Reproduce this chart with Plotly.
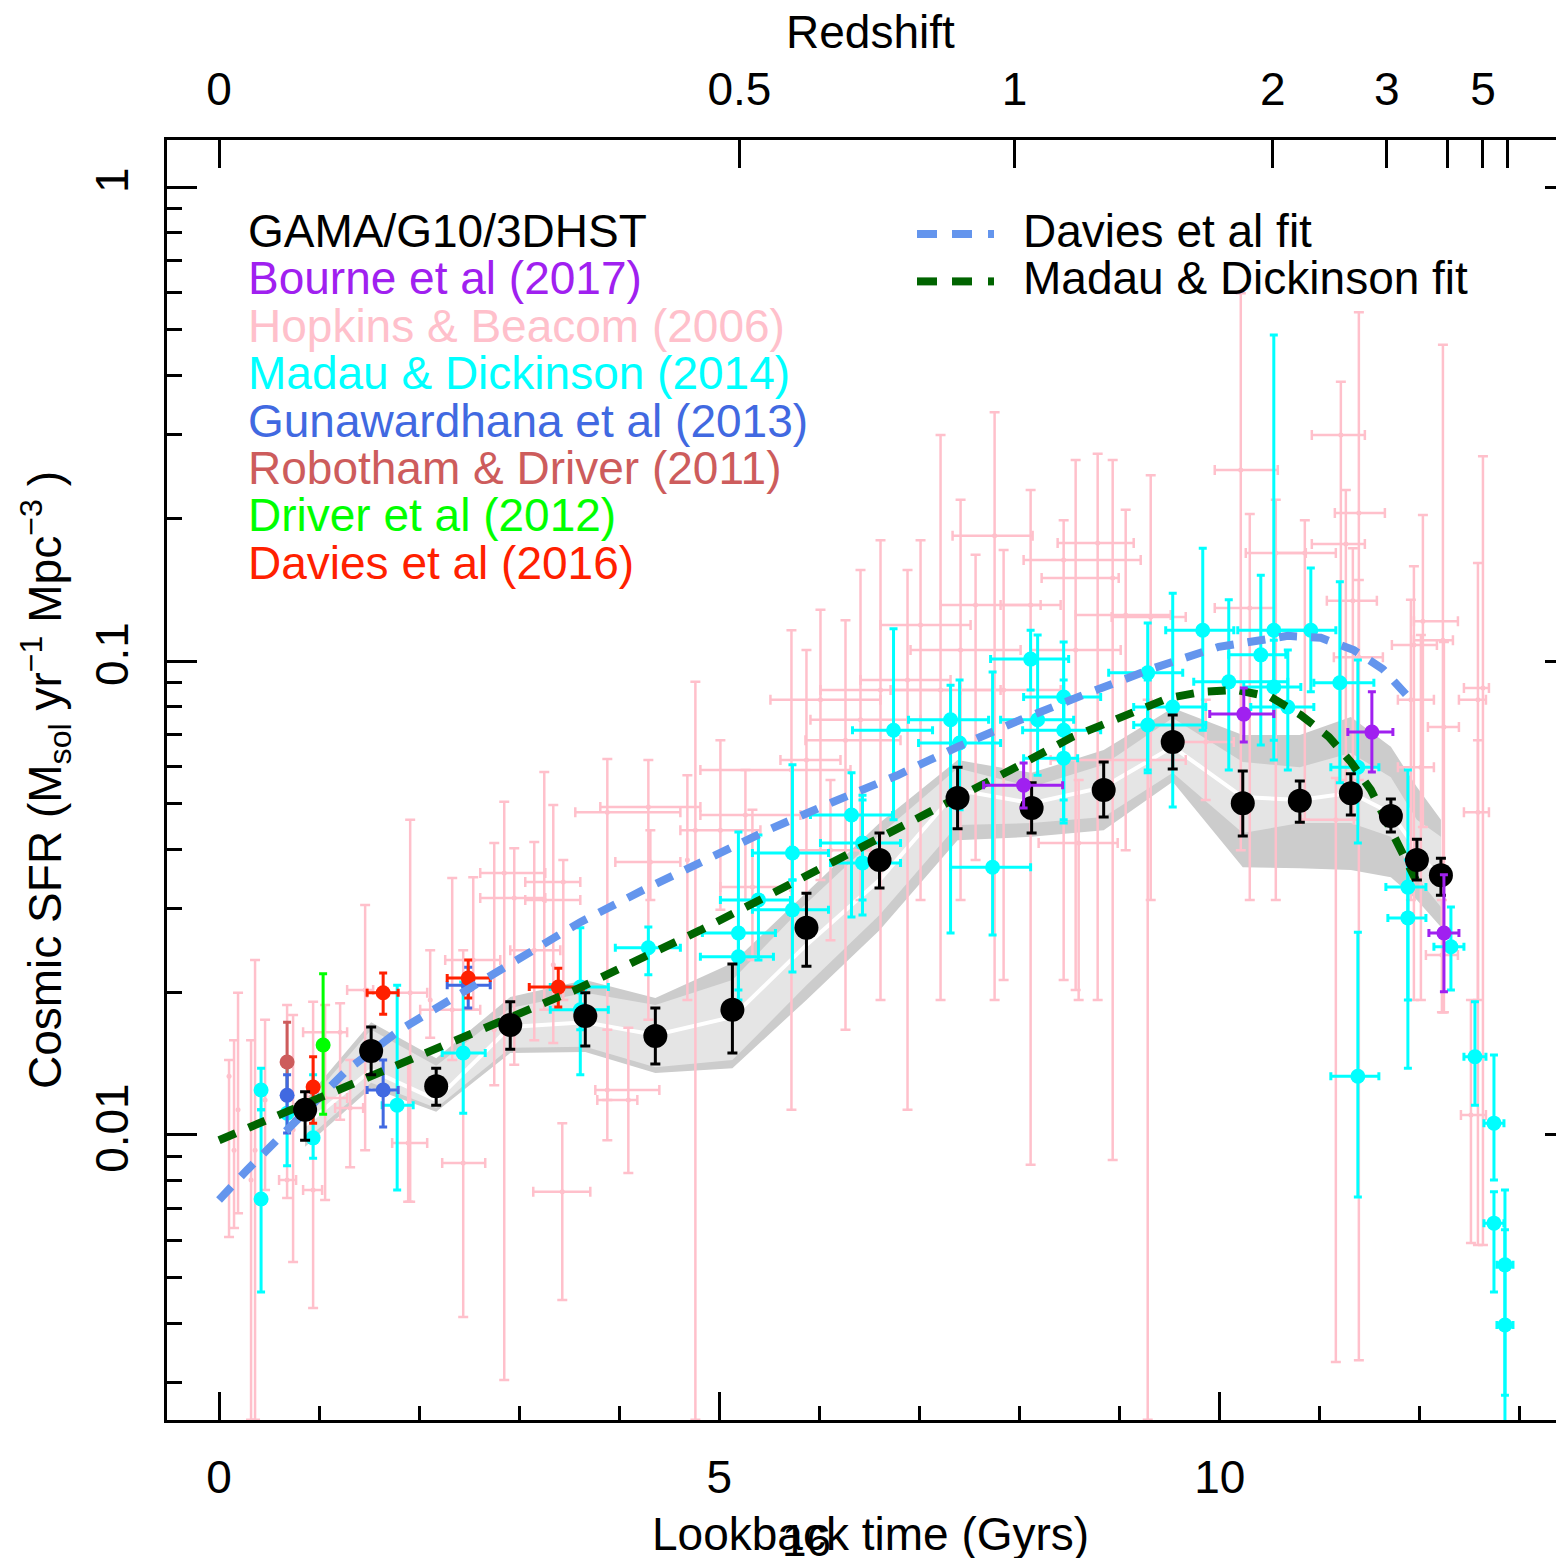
import plotly.graph_objects as go

# ---------------- data (lookback time in Gyr, log10 SFR density) ----------------
# GAMA/G10/3DHST
gama_t = [0.86, 1.52, 2.17, 2.91, 3.66, 4.36, 5.13, 5.87, 6.60, 7.38, 8.12, 8.84, 9.53, 10.23, 10.80, 11.31, 11.71, 11.97, 12.21]
gama_L = [-1.947, -1.823, -1.897, -1.768, -1.749, -1.791, -1.736, -1.563, -1.420, -1.289, -1.310, -1.272, -1.171, -1.300, -1.295, -1.279, -1.327, -1.420, -1.452]
gama_Lhi = [-1.909, -1.772, -1.859, -1.719, -1.700, -1.732, -1.639, -1.490, -1.363, -1.224, -1.257, -1.213, -1.114, -1.232, -1.253, -1.238, -1.291, -1.376, -1.416]
gama_Llo = [-2.011, -1.873, -1.937, -1.819, -1.812, -1.850, -1.827, -1.644, -1.479, -1.354, -1.363, -1.329, -1.228, -1.369, -1.340, -1.325, -1.361, -1.462, -1.494]

# grey range bands around GAMA
band_outer_hi = [-1.926, -1.762, -1.838, -1.709, -1.673, -1.711, -1.637, -1.489, -1.342, -1.209, -1.236, -1.188, -1.099, -1.156, -1.156, -1.118, -1.181, -1.266, -1.335]
band_inner_hi = [-1.939, -1.778, -1.854, -1.732, -1.700, -1.726, -1.673, -1.511, -1.367, -1.226, -1.266, -1.219, -1.120, -1.213, -1.224, -1.194, -1.245, -1.335, -1.371]
band_mid = [-1.979, -1.863, -1.926, -1.772, -1.762, -1.789, -1.751, -1.599, -1.462, -1.272, -1.300, -1.266, -1.181, -1.287, -1.293, -1.278, -1.321, -1.399, -1.462]
band_inner_lo = [-2.011, -1.890, -1.943, -1.816, -1.814, -1.857, -1.842, -1.684, -1.536, -1.346, -1.342, -1.329, -1.236, -1.363, -1.342, -1.342, -1.371, -1.456, -1.519]
band_outer_lo = [-2.025, -1.901, -1.951, -1.827, -1.825, -1.869, -1.859, -1.715, -1.568, -1.378, -1.371, -1.357, -1.255, -1.435, -1.437, -1.441, -1.456, -1.504, -1.561]

# Bourne et al (2017)
bourne_t = [8.04, 10.24, 11.52, 12.24]
bourne_tlo = [7.64, 9.90, 11.28, 12.09]
bourne_thi = [8.43, 10.54, 11.73, 12.39]
bourne_L = [-1.262, -1.112, -1.150, -1.574]
bourne_Lhi = [-1.215, -1.057, -1.065, -1.451]
bourne_Llo = [-1.310, -1.171, -1.234, -1.698]

# Gunawardhana et al (2013)
gun_t = [0.68, 1.64, 2.49]
gun_tlo = [None, 1.48, 2.28]
gun_thi = [None, 1.79, 2.71]
gun_L = [-1.916, -1.905, -1.684]
gun_Lhi = [-1.873, -1.842, -1.646]
gun_Llo = [-1.996, -1.983, -1.732]

# Robotham & Driver (2011)
rob_t = [0.68]
rob_L = [-1.846]
rob_Lhi = [-1.762]
rob_Llo = [-1.926]

# Driver et al (2012)
drv_t = [1.04]
drv_L = [-1.810]
drv_Lhi = [-1.660]
drv_Llo = [-1.956]

# Davies et al (2016)
dav_t = [0.94, 1.64, 2.49, 3.39]
dav_tlo = [None, 1.48, 2.28, 3.10]
dav_thi = [None, 1.79, 2.71, 3.64]
dav_L = [-1.899, -1.700, -1.669, -1.688]
dav_Lhi = [-1.835, -1.658, -1.631, -1.648]
dav_Llo = [-1.975, -1.745, -1.711, -1.730]

# Madau & Dickinson (2014)
md_t = [0.42, 0.42, 0.68, 0.94, 1.78, 2.44, 3.61, 3.61, 4.29, 5.19, 5.19, 5.39, 5.73, 5.73, 6.32, 6.43, 6.43, 6.74, 7.31, 7.40,
        7.73, 8.11, 8.18, 8.44, 8.44, 8.44, 9.28, 9.28, 9.53, 9.83, 10.09, 10.41, 10.54, 10.54, 10.68, 10.91, 11.20, 11.38, 11.38,
        11.88, 11.88, 12.31, 12.55, 12.74, 12.74, 12.85, 12.85]
md_tlo = [None, None, None, None, 1.63, 2.23, 3.31, 3.31, 3.96, 4.83, 4.81, 5.01, 5.33, 5.33, 5.91, 6.01, 6.11, 6.33, 6.89, 6.99,
          7.31, 7.71, 7.81, 8.04, 8.03, 8.04, 8.89, 9.14, 9.14, 9.46, 9.74, 10.09, 10.18, 10.24, 10.31, 10.59, 10.94, 11.11, 11.11,
          11.66, 11.68, 12.14, 12.44, 12.64, 12.64, 12.77, 12.77]
md_thi = [None, None, None, None, 1.94, 2.66, 3.89, 3.89, 4.61, 5.56, 5.54, 5.71, 6.09, 6.09, 6.73, 6.81, 6.81, 7.13, 7.69, 7.81,
          8.11, 8.49, 8.54, 8.81, 8.81, 8.58, 9.63, 9.86, 9.86, 10.14, 10.68, 10.66, 10.91, 10.81, 10.94, 11.16, 11.54, 11.59, 11.59,
          12.06, 12.06, 12.44, 12.66, 12.84, 12.84, 12.93, 12.93]
md_L = [-1.905, -2.135, -1.954, -2.006, -1.937, -1.827, -1.688, -1.736, -1.605, -1.574, -1.624, -1.504, -1.405, -1.525, -1.325,
        -1.384, -1.426, -1.146, -1.124, -1.173, -1.435, -0.996, -1.124, -1.076, -1.146, -1.205, -1.025, -1.135, -1.097, -0.935,
        -1.044, -0.987, -0.935, -1.055, -1.097, -0.935, -1.046, -1.224, -1.876, -1.477, -1.542, -1.603, -1.835, -1.975, -2.186,
        -2.274, -2.401]
md_Lhi = [-1.859, -1.947, -1.848, -1.873, -1.684, -1.677, -1.563, -1.694, -1.561, -1.361, -1.567, -1.367, -1.219, -1.462, -1.236,
          -1.283, -1.293, -0.932, -1.051, -1.040, -1.023, -0.935, -0.945, -0.960, -1.040, -1.082, -0.920, -1.040, -0.857, -0.762,
          -0.871, -0.819, -0.312, -0.956, -0.977, -0.804, -0.833, -0.998, -1.572, -1.230, -1.420, -1.519, -1.719, -1.831, -2.120,
          -2.116, -2.200]
md_Llo = [-1.947, -2.331, -2.065, -2.049, -2.116, -1.954, -1.873, -1.778, -1.662, -1.694, -1.715, -1.631, -1.462, -1.656, -1.540,
          -1.504, -1.536, -1.335, -1.574, -1.314, -1.578, -1.061, -1.241, -1.342, -1.293, -1.335, -1.236, -1.230, -1.308, -1.146,
          -1.230, -1.177, -1.167, -1.209, -1.230, -1.065, -1.257, -1.384, -2.131, -1.715, -1.859, -1.694, -1.937, -2.095, -2.331,
          -2.549, -2.643]

# Hopkins & Beacom (2006) compilation
hb_t = [0.10, 0.15, 0.19, 0.32, 0.36, 0.46, 0.68, 0.74, 0.94, 1.06, 1.21, 1.31, 1.46, 1.91, 1.89, 2.11, 2.33, 2.44, 2.54, 2.75,
        2.85, 2.95, 3.15, 3.25, 3.34, 3.43, 3.44, 3.88, 3.88, 4.09, 4.29, 4.31, 4.68, 4.76, 5.01, 5.26, 5.33, 5.72, 5.87, 6.01,
        6.11, 6.26, 6.41, 6.61, 6.88, 7.01, 7.21, 7.41, 7.56, 7.75, 7.84, 8.11, 8.44, 8.56, 8.78, 8.93, 9.06, 9.31, 9.28, 10.21,
        10.30, 10.56, 10.85, 11.21, 11.39, 11.26, 11.33, 11.16, 12.03, 11.94, 12.23, 12.58, 12.63, 11.91, 12.01, 12.24, 12.58, 11.39,
        12.51, 12.22, 8.59, 9.86]
hb_tlo = [None, None, None, None, None, None, 0.60, None, 0.84, 0.88, 0.84, 1.16, 1.28, 1.48, 1.73, None, 2.01, 2.23, 2.26, None,
          2.61, 2.61, 2.91, 3.06, None, 3.14, 3.06, 3.56, 3.76, 3.78, 3.81, 3.96, None, None, 4.61, 4.81, 5.01, 4.81, 5.61, 5.51,
          5.71, 5.86, 5.91, 6.01, 6.41, 6.61, 6.71, 6.91, 7.21, 7.33, 7.41, 7.81, 8.04, 8.11, 8.38, 8.22, 8.56, 8.92, 8.31, 9.95,
          9.95, 10.26, 10.56, 10.92, 11.15, 10.92, 11.07, 10.81, 11.94, 11.72, 11.94, 12.39, 12.44, 11.78, 11.78, 12.08, 12.44, 11.14,
          12.41, 12.06, 8.19, 9.61]
hb_thi = [None, None, None, None, None, None, 0.77, None, 1.03, 1.28, 1.28, 1.44, 1.54, 2.08, 2.08, None, 2.61, 2.66, 2.81, None,
          3.26, 3.26, 3.41, 3.61, None, 3.71, 3.61, 4.61, 4.40, 4.18, 4.81, 4.61, None, None, 5.41, 5.81, 5.71, 6.31, 6.21, 6.61,
          6.51, 6.81, 7.01, 7.31, 7.31, 7.51, 7.81, 8.01, 8.21, 8.13, 8.41, 8.41, 9.21, 9.01, 9.14, 8.99, 9.51, 9.66, 9.66, 10.58,
          10.56, 10.86, 11.16, 11.45, 11.65, 11.45, 11.57, 11.34, 12.38, 12.17, 12.33, 12.66, 12.69, 12.14, 12.14, 12.39, 12.69, 11.63,
          12.66, 12.38, 8.98, 10.14]
hb_L = [-1.876, -2.032, -1.947, -2.095, -2.032, -1.926, -2.095, -1.989, -2.116, -1.922, -1.783, -1.943, -1.694, -1.700, -2.017,
        -1.715, -1.736, -2.059, -1.631, -1.778, -1.447, -1.500, -1.610, -1.504, -1.641, -2.120, -1.466, -1.319, -1.905, -1.926,
        -1.308, -1.424, -1.420, -1.357, -1.357, -1.325, -1.477, -1.230, -1.209, -1.082, -1.399, -1.167, -1.124, -1.061, -1.040,
        -0.924, -1.061, -0.977, -0.882, -0.736, -1.061, -0.882, -0.787, -0.977, -0.751, -0.825, -0.903, -0.907, -1.209, -0.597,
        -0.888, -0.772, -0.772, -0.523, -0.688, -0.753, -0.873, -1.335, -0.916, -0.966, -0.956, -1.082, -1.057, -1.082, -1.224,
        -1.139, -1.319, -0.992, -1.958, -1.620, -1.384, -1.171]
hb_Lhi = [-1.842, -1.800, -1.700, -1.800, -1.631, -1.757, -1.726, -1.747, -1.719, -1.726, -1.722, -1.842, -1.515, -1.335, -1.842,
          -1.610, -1.458, -1.610, -1.456, -1.384, -1.297, -1.395, -1.382, -1.234, -1.304, -1.975, -1.420, -1.207, -1.778, -1.774,
          -1.209, -1.357, -1.241, -1.044, -1.167, -1.230, -1.314, -0.935, -0.977, -0.892, -1.251, -0.914, -0.808, -0.745, -0.808,
          -0.745, -0.523, -0.660, -0.776, -0.475, -0.766, -0.639, -0.703, -0.576, -0.563, -0.576, -0.681, -0.608, -1.082, -0.224,
          -0.690, -0.660, -0.703, -0.411, -0.264, -0.639, -0.762, -1.247, -0.692, -0.800, -0.333, -0.793, -0.568, -0.871, -0.945,
          -0.960, -1.167, -0.829, -1.715, -1.504, -1.251, -1.082]
hb_Llo = [-2.215, -2.196, -2.165, -2.601, -2.601, -2.116, -2.133, -2.268, -2.365, -2.137, -1.968, -2.068, -2.032, -2.141, -2.141,
          -1.795, -1.842, -2.384, -1.736, -1.895, -2.517, -1.852, -1.800, -1.736, -1.806, -2.348, -1.715, -1.926, -2.011, -2.080,
          -1.757, -1.504, -1.715, -2.601, -1.525, -1.504, -1.631, -1.947, -1.525, -1.462, -1.589, -1.778, -1.504, -1.715, -1.947,
          -1.504, -1.715, -1.504, -1.420, -1.715, -1.673, -2.063, -1.673, -1.694, -1.715, -2.053, -1.399, -1.504, -2.601, -1.399,
          -1.504, -1.504, -1.335, -1.251, -2.475, -1.293, -1.335, -2.479, -1.350, -1.715, -1.741, -2.232, -2.232, -1.504, -1.715,
          -1.741, -1.715, -1.251, -2.228, -1.741, -1.715, -1.293]

# fits
davfit_t = [0.0, 0.28, 0.78, 1.28, 1.81, 2.44, 3.01, 3.61, 4.24, 4.88, 5.48, 6.14, 6.78, 7.38, 8.01, 8.68, 9.34, 9.99, 10.68, 11.01, 11.34, 11.63, 11.91]
davfit_L = [-2.137, -2.074, -1.968, -1.863, -1.778, -1.698, -1.624, -1.551, -1.483, -1.420, -1.357, -1.297, -1.241, -1.181, -1.124, -1.068, -1.015, -0.970, -0.947, -0.951, -0.977, -1.017, -1.082]
mdfit_t = [0.0, 0.36, 1.04, 1.63, 2.29, 2.94, 3.56, 4.18, 4.81, 5.44, 6.04, 6.64, 7.28, 7.91, 8.53, 9.16, 9.49, 9.83, 10.16, 10.51, 10.81, 11.09, 11.31, 11.51, 11.71, 11.84, 11.96]
mdfit_L = [-2.011, -1.979, -1.922, -1.869, -1.810, -1.753, -1.694, -1.631, -1.568, -1.500, -1.435, -1.367, -1.297, -1.230, -1.160, -1.106, -1.078, -1.065, -1.061, -1.076, -1.114, -1.160, -1.213, -1.272, -1.357, -1.405, -1.462]

# axis ticks
lookback_ticks = [0, 5, 10]
lookback_minor = [1, 2, 3, 4, 6, 7, 8, 9, 11, 12, 13]
z_tick_lookback = [0.0, 5.20, 7.95, 10.53, 11.67, 12.28, 12.63, 12.88]
z_tick_text = ["0", "0.5", "1", "2", "3", "", "5", ""]
sfr_ticks = [0.01, 0.1, 1]
sfr_tick_text = ["0.01", "0.1", "1"]

legend_items = [
    ("GAMA/G10/3DHST", "black"),
    ("Bourne et al (2017)", "#A020F0"),
    ("Hopkins & Beacom (2006)", "#FFC0CB"),
    ("Madau & Dickinson (2014)", "#00FFFF"),
    ("Gunawardhana et al (2013)", "#4169E1"),
    ("Robotham & Driver (2011)", "#CD5C5C"),
    ("Driver et al (2012)", "#00FF00"),
    ("Davies et al (2016)", "#FF2000"),
]

# ---------------- layout geometry ----------------
W, H = 1556, 1558
ML, MR, MT, MB = 167, 0, 140, 138
X_RANGE = [-0.52, 13.36]
Y_RANGE = [-2.6013, 0.0992]
FONT = "Liberation Sans, Arial, Helvetica, sans-serif"


def px_x(px):
    return (px - ML) / (W - ML - MR)


def px_y(py):
    return (H - MB - py) / (H - MT - MB)


fig = go.Figure()


def pw(v):
    return 10 ** v


def add_points(t, L, Lhi, Llo, color, size, thick, cap, tlo=None, thi=None):
    n = len(t)
    assert len(L) == n and len(Lhi) == n and len(Llo) == n
    if tlo is None:
        tlo = [None] * n
        thi = [None] * n
    assert len(tlo) == n and len(thi) == n
    for has_x in (False, True):
        idx = [i for i in range(n) if (tlo[i] is not None) == has_x]
        if not idx:
            continue
        y = [pw(L[i]) for i in idx]
        up = [pw(Lhi[i]) - pw(L[i]) for i in idx]
        dn = [pw(L[i]) - pw(Llo[i]) for i in idx]
        kw = dict(
            x=[t[i] for i in idx], y=y, mode="markers",
            marker=dict(color=color, size=size, line=dict(width=0)),
            error_y=dict(type="data", symmetric=False, array=up, arrayminus=dn,
                         color=color, thickness=thick, width=cap),
            hoverinfo="skip", showlegend=False,
        )
        if has_x:
            kw["error_x"] = dict(type="data", symmetric=False,
                                 array=[thi[i] - t[i] for i in idx],
                                 arrayminus=[t[i] - tlo[i] for i in idx],
                                 color=color, thickness=thick, width=cap)
        fig.add_trace(go.Scatter(**kw))


# grey bands
def add_band(hi, lo, color):
    fig.add_trace(go.Scatter(
        x=gama_t + gama_t[::-1],
        y=[pw(v) for v in hi] + [pw(v) for v in lo[::-1]],
        fill="toself", fillcolor=color, mode="lines", line=dict(width=0, color=color),
        hoverinfo="skip", showlegend=False))


add_band(band_outer_hi, band_outer_lo, "#CCCCCC")
add_band(band_inner_hi, band_inner_lo, "#E5E5E5")
fig.add_trace(go.Scatter(x=gama_t, y=[pw(v) for v in band_mid], mode="lines",
                         line=dict(color="white", width=4), hoverinfo="skip", showlegend=False))

# data sets
add_points(hb_t, hb_L, hb_Lhi, hb_Llo, "#FFC0CB", 5, 2.5, 5, hb_tlo, hb_thi)
add_points(md_t, md_L, md_Lhi, md_Llo, "#00FFFF", 15, 3, 4, md_tlo, md_thi)
add_points(rob_t, rob_L, rob_Lhi, rob_Llo, "#CD5C5C", 15, 3, 4)
add_points(gun_t, gun_L, gun_Lhi, gun_Llo, "#4169E1", 15, 3, 4, gun_tlo, gun_thi)
add_points(drv_t, drv_L, drv_Lhi, drv_Llo, "#00FF00", 15, 3, 4)
add_points(dav_t, dav_L, dav_Lhi, dav_Llo, "#FF2000", 15, 3, 4, dav_tlo, dav_thi)

# fits
FIT_DASH = "18px,14px"
fig.add_trace(go.Scatter(x=davfit_t, y=[pw(v) for v in davfit_L], mode="lines",
                         line=dict(color="#6495ED", width=8, dash=FIT_DASH),
                         hoverinfo="skip", showlegend=False))
fig.add_trace(go.Scatter(x=mdfit_t, y=[pw(v) for v in mdfit_L], mode="lines",
                         line=dict(color="#006400", width=8, dash=FIT_DASH),
                         hoverinfo="skip", showlegend=False))

add_points(gama_t, gama_L, gama_Lhi, gama_Llo, "black", 24, 3, 5)
add_points(bourne_t, bourne_L, bourne_Lhi, bourne_Llo, "#A020F0", 15, 3, 4, bourne_tlo, bourne_thi)

# ---------------- axes ----------------
minor_y = [m * 10 ** e for e in (-3, -2, -1) for m in range(2, 10) if 0.0025 < m * 10 ** e < 1.25]

axis_common = dict(showgrid=False, zeroline=False, linecolor="black", tickcolor="black")

fig.update_layout(
    width=W, height=H,
    margin=dict(l=ML, r=MR, t=MT, b=MB, pad=0, autoexpand=False),
    plot_bgcolor="white", paper_bgcolor="white", showlegend=False,
    font=dict(family=FONT, size=46, color="black"),
    xaxis=dict(range=X_RANGE, showline=True, linewidth=3, ticks="inside", ticklen=28, tickwidth=3,
               tickvals=lookback_ticks, ticktext=[str(v) for v in lookback_ticks],
               tickfont=dict(family=FONT, size=46, color="black"), ticklabelstandoff=15,
               minor=dict(ticks="inside", ticklen=14, tickwidth=3, tickcolor="black",
                          tickvals=lookback_minor, showgrid=False),
               automargin=False, **axis_common),
    xaxis2=dict(range=X_RANGE, overlaying="x", side="top", anchor="y", showline=True, linewidth=3,
                ticks="inside", ticklen=28, tickwidth=3, tickvals=z_tick_lookback, ticktext=z_tick_text,
                tickfont=dict(family=FONT, size=46, color="black"), ticklabelstandoff=14,
                automargin=False, **axis_common),
    yaxis=dict(type="log", range=Y_RANGE, showline=True, linewidth=3, ticks="inside", ticklen=30, tickwidth=3,
               tickvals=sfr_ticks, ticktext=sfr_tick_text, tickangle=-90,
               tickfont=dict(family=FONT, size=46, color="black"), ticklabelstandoff=18,
               minor=dict(ticks="inside", ticklen=15, tickwidth=3, tickcolor="black",
                          tickvals=minor_y, showgrid=False),
               automargin=False, **axis_common),
    yaxis2=dict(type="log", range=Y_RANGE, overlaying="y", side="right", anchor="x", showline=False,
                ticks="inside", ticklen=11, tickwidth=3, tickvals=sfr_ticks, showticklabels=False,
                automargin=False, **axis_common),
)

# dummy traces so the secondary axes are drawn
fig.add_trace(go.Scatter(x=[None], y=[None], xaxis="x2", yaxis="y", showlegend=False, hoverinfo="skip"))
fig.add_trace(go.Scatter(x=[None], y=[None], xaxis="x", yaxis="y2", showlegend=False, hoverinfo="skip"))

# ---------------- text ----------------
ann = []
ann.append(dict(text="Redshift", x=px_x(870), y=px_y(32), xref="paper", yref="paper",
                xanchor="center", yanchor="middle", showarrow=False, font=dict(size=46, family=FONT)))
ann.append(dict(text="Lookback time (Gyrs)", x=px_x(870), y=px_y(1534), xref="paper", yref="paper",
                xanchor="center", yanchor="middle", showarrow=False, font=dict(size=46, family=FONT)))
ann.append(dict(text="16", x=px_x(806), y=px_y(1540), xref="paper", yref="paper",
                xanchor="center", yanchor="middle", showarrow=False, font=dict(size=44, family=FONT)))
ann.append(dict(text="Cosmic SFR (M<sub>sol</sub> yr<sup>−1</sup> Mpc<sup>−3</sup> )", x=px_x(45), y=px_y(780),
                xref="paper", yref="paper", xanchor="center", yanchor="middle", textangle=-90,
                showarrow=False, font=dict(size=46, family=FONT)))

leg_y0, leg_dy = 231, 47.4
for k, (label, col) in enumerate(legend_items):
    ann.append(dict(text=label, x=px_x(246), y=px_y(leg_y0 + k * leg_dy), xref="paper", yref="paper",
                    xanchor="left", yanchor="middle", showarrow=False,
                    font=dict(size=46, family=FONT, color=col)))

fit_legend = [("Davies et al fit", "#6495ED"), ("Madau & Dickinson fit", "#006400")]
legend_dash_segments = [(917, 937), (952, 972), (988, 994)]
shapes = []
for k, (label, col) in enumerate(fit_legend):
    yc = leg_y0 + 3 + k * leg_dy
    ann.append(dict(text=label, x=px_x(1021), y=px_y(yc - 3), xref="paper", yref="paper",
                    xanchor="left", yanchor="middle", showarrow=False,
                    font=dict(size=46, family=FONT, color="black")))
    for a, b in legend_dash_segments:
        shapes.append(dict(type="line", xref="paper", yref="paper", x0=px_x(a), x1=px_x(b),
                           y0=px_y(yc), y1=px_y(yc), line=dict(color=col, width=8)))

fig.update_layout(annotations=ann, shapes=shapes)

fig.write_html("out.html")
